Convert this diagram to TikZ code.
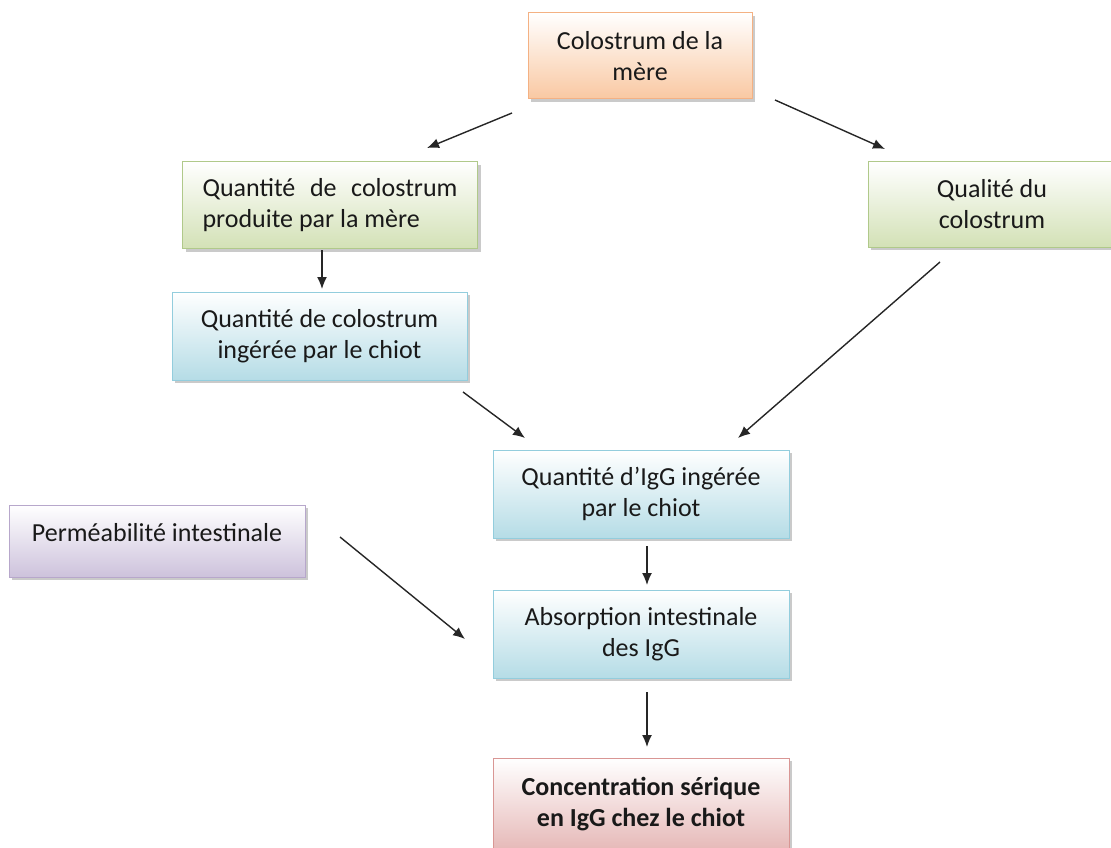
\documentclass[tikz,border=0pt]{standalone}
\usepackage{fontspec}
\setmainfont{Carlito}
\usetikzlibrary{arrows.meta,shadows}
\definecolor{oborder}{HTML}{F4B183}
\definecolor{ofill}{HTML}{F9C8A2}
\definecolor{gborder}{HTML}{B0C98A}
\definecolor{gfill}{HTML}{D3E1B6}
\definecolor{bborder}{HTML}{93CDDD}
\definecolor{bfill}{HTML}{B5DCE6}
\definecolor{pborder}{HTML}{B7A7CB}
\definecolor{pfill}{HTML}{CDC2DC}
\definecolor{rborder}{HTML}{D99694}
\definecolor{rfill}{HTML}{E6B9B8}
\tikzset{
  txt/.style={font=\fontsize{26}{31}\selectfont, text=black!90},
  box/.style={rectangle, inner sep=0pt, align=center, line width=1pt, txt,
    drop shadow={shadow xshift=3pt, shadow yshift=-3pt, opacity=0.35, fill=black!60}},
  obox/.style={box, draw=oborder, top color=white, bottom color=ofill},
  gbox/.style={box, draw=gborder, top color=white, bottom color=gfill},
  bbox/.style={box, draw=bborder, top color=white, bottom color=bfill},
  pbox/.style={box, draw=pborder, top color=white, bottom color=pfill},
  rbox/.style={box, draw=rborder, top color=white, bottom color=rfill},
  arr/.style={-{Latex[length=12pt,width=10pt]}, line width=1.4pt, black!85}
}
\begin{document}
\begin{tikzpicture}[x=1pt,y=1pt]
\useasboundingbox (0,0) rectangle (1111,-848);
\node[obox, minimum width=224pt, minimum height=86pt] (col) at (640,-56) {Colostrum de la\\mère};
\node[gbox, minimum width=295pt, minimum height=87pt, align=left] (prod) at (330,-205) {\makebox[255pt][s]{Quantité de colostrum}\\produite par la mère};
\node[gbox, minimum width=248pt, minimum height=85pt] (qual) at (992,-204.5) {Qualité du\\colostrum};
\node[bbox, minimum width=295pt, minimum height=88pt] (ing) at (319.5,-336) {Quantité de colostrum\\ingérée par le chiot};
\node[bbox, minimum width=296pt, minimum height=88pt] (igg) at (641,-494) {Quantité d’IgG ingérée\\par le chiot};
\node[pbox, minimum width=296pt, minimum height=72pt] (perm) at (157,-541) {};
\node[txt] (permtxt) at (157,-533) {Perméabilité intestinale};
\node[bbox, minimum width=296pt, minimum height=88pt] (abs) at (641,-634) {Absorption intestinale\\des IgG};
\node[rbox, minimum width=296pt, minimum height=92pt, font=\fontsize{26}{31}\selectfont\bfseries] (conc) at (641,-804) {Concentration sérique\\en IgG chez le chiot};
\coordinate (a1s) at (512,-113); \coordinate (a1e) at (427,-148);
\coordinate (a2s) at (775,-100); \coordinate (a2e) at (885,-149);
\coordinate (a3s) at (322,-250); \coordinate (a3e) at (322,-289);
\coordinate (a4s) at (940,-262); \coordinate (a4e) at (738,-438);
\coordinate (a5s) at (463,-392); \coordinate (a5e) at (525,-438);
\coordinate (a6s) at (647,-546); \coordinate (a6e) at (647,-585);
\coordinate (a7s) at (340,-537); \coordinate (a7e) at (465,-639);
\coordinate (a8s) at (647,-692); \coordinate (a8e) at (647,-747);
\draw[arr] (a1s) -- (a1e);
\draw[arr] (a2s) -- (a2e);
\draw[arr] (a3s) -- (a3e);
\draw[arr] (a4s) -- (a4e);
\draw[arr] (a5s) -- (a5e);
\draw[arr] (a6s) -- (a6e);
\draw[arr] (a7s) -- (a7e);
\draw[arr] (a8s) -- (a8e);
\end{tikzpicture}
\end{document}
